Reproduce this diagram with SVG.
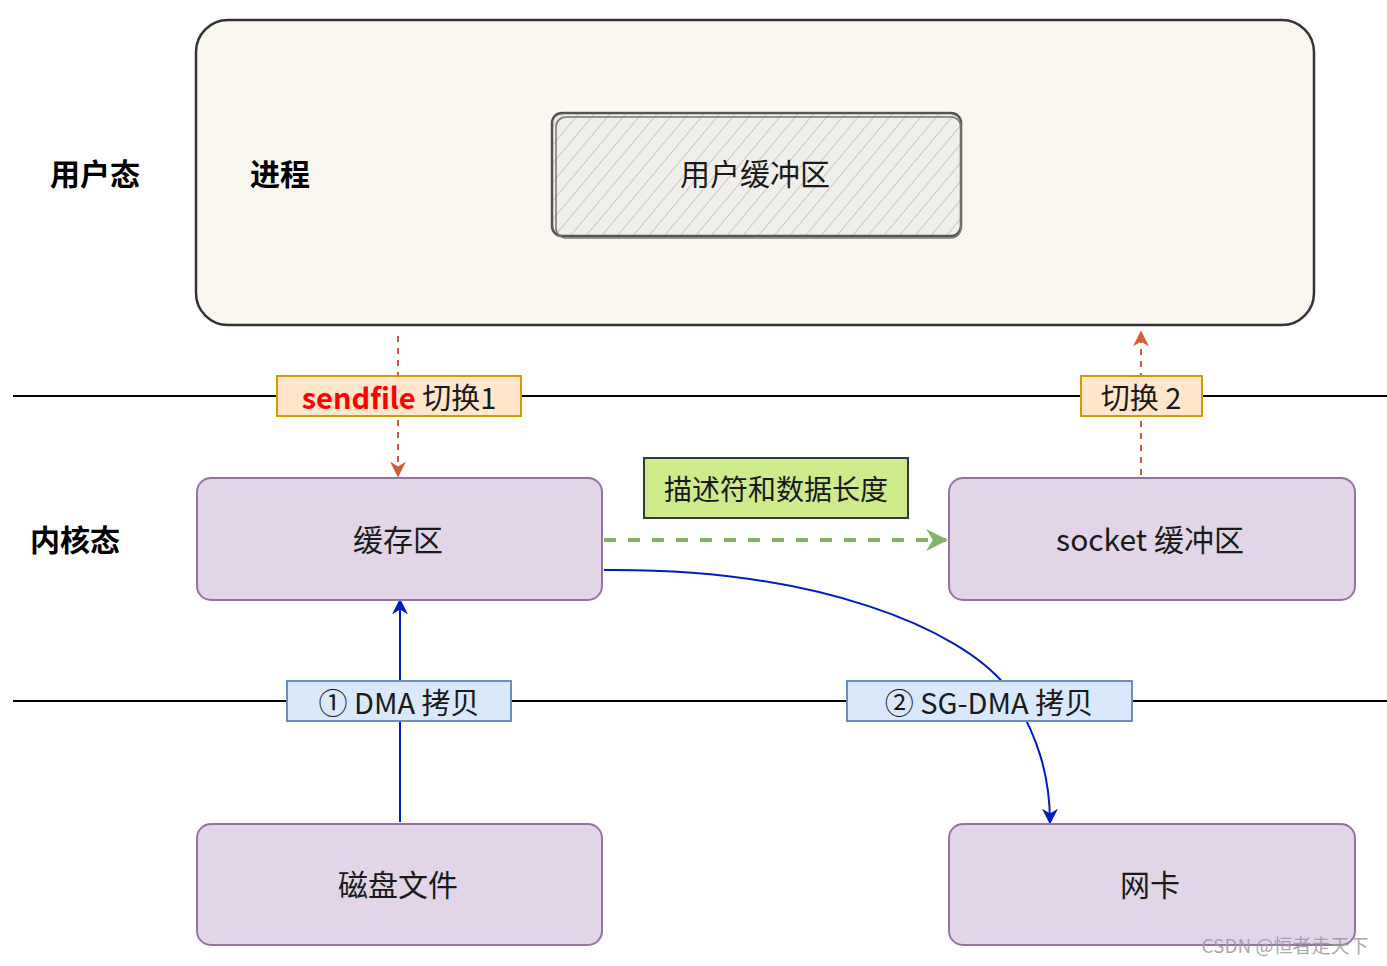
<svg xmlns="http://www.w3.org/2000/svg" width="1387" height="966" viewBox="0 0 1387 966">
<defs>
<style>
.t{font-family:"Noto Sans CJK SC","Liberation Sans",sans-serif;fill:#1a1a1a;text-anchor:middle;dominant-baseline:central}
.b{font-weight:bold;fill:#000}
.node{fill:#e1d5e7;stroke:#9673a6;stroke-width:2}
.sw{fill:#ffe6cc;stroke:#d79b00;stroke-width:2}
.dm{fill:#dae8fc;stroke:#6c8ebf;stroke-width:2}
.hl{stroke:#000;stroke-width:2}
</style>
<pattern id="hatch" patternUnits="userSpaceOnUse" width="12" height="12" patternTransform="rotate(40)">
<rect width="12" height="12" fill="#f1efe9"/>
<line x1="0" y1="0" x2="0" y2="12" stroke="#bbb" stroke-width="1.5"/>
</pattern>
<marker id="ar" viewBox="0 0 10 10" refX="9" refY="5" markerWidth="16" markerHeight="16" orient="auto" markerUnits="userSpaceOnUse"><path d="M0,0 L10,5 L0,10 L3,5 z" fill="#c73500"/></marker>
<marker id="ag" viewBox="0 0 10 10" refX="9" refY="5" markerWidth="22" markerHeight="22" orient="auto" markerUnits="userSpaceOnUse"><path d="M0,0 L10,5 L0,10 L3,5 z" fill="#82b366"/></marker>
<marker id="ab" viewBox="0 0 10 10" refX="9" refY="5" markerWidth="16" markerHeight="16" orient="auto" markerUnits="userSpaceOnUse"><path d="M0,0 L10,5 L0,10 L3,5 z" fill="#001dbc"/></marker>
</defs>
<rect width="1387" height="966" fill="#fff"/>
<line class="hl" x1="13" y1="396" x2="1387" y2="396"/>
<line class="hl" x1="13" y1="701" x2="1387" y2="701"/>

<g id="process">
<rect x="196" y="20" width="1118" height="305" rx="32" fill="#f9f7ef" stroke="#333" stroke-width="2.5"/>
<text class="t b" x="280" y="172" font-size="30">进程</text>
</g>
<g id="userbuf">
<rect x="552" y="113" width="409" height="123" rx="10" fill="url(#hatch)" stroke="#555" stroke-width="2.5"/>
<rect x="556" y="117" width="405" height="121" rx="10" fill="none" stroke="#777" stroke-width="1.5"/>
<text class="t" x="755" y="172" font-size="30" fill="#333">用户缓冲区</text>
</g>
<g id="labels">
<text class="t b" x="95" y="172" font-size="30">用户态</text>
<text class="t b" x="75" y="538" font-size="30">内核态</text>
</g>

<g id="connectors" fill="none">
<line x1="398" y1="336" x2="398" y2="476" stroke="#c73500" stroke-width="2" stroke-dasharray="6,6" opacity="0.8" marker-end="url(#ar)"/>
<line x1="1141" y1="475" x2="1141" y2="332" stroke="#c73500" stroke-width="2" stroke-dasharray="6,6" opacity="0.8" marker-end="url(#ar)"/>
<line x1="604" y1="540" x2="946" y2="540" stroke="#82b366" stroke-width="4" stroke-dasharray="12,12" marker-end="url(#ag)"/>
<line x1="400" y1="822" x2="400" y2="600" stroke="#001dbc" stroke-width="2" marker-end="url(#ab)"/>
<path d="M604,570 C820,568 960,630 1005,685 C1040,735 1050,780 1050,823" stroke="#001dbc" stroke-width="2" marker-end="url(#ab)"/>
</g>

<g id="cache">
<rect class="node" x="197" y="478" width="405" height="122" rx="14"/>
<text class="t" x="398" y="538" font-size="30">缓存区</text>
</g>
<g id="socket">
<rect class="node" x="949" y="478" width="406" height="122" rx="14"/>
<text class="t" x="1150" y="538" font-size="30">socket 缓冲区</text>
</g>
<g id="disk">
<rect class="node" x="197" y="824" width="405" height="121" rx="14"/>
<text class="t" x="398" y="883" font-size="30">磁盘文件</text>
</g>
<g id="nic">
<rect class="node" x="949" y="824" width="406" height="121" rx="14"/>
<text class="t" x="1150" y="883" font-size="30">网卡</text>
</g>
<g id="desc">
<rect x="644" y="458" width="264" height="60" fill="#cdeb8b" stroke="#36393d" stroke-width="2"/>
<text class="t" x="776" y="488" font-size="28" fill="#333">描述符和数据长度</text>
</g>
<g id="sw1">
<rect class="sw" x="277" y="376" width="244" height="40"/>
<text class="t" x="399" y="396" font-size="29"><tspan fill="#ff0000" font-weight="bold">sendfile</tspan> 切换1</text>
</g>
<g id="sw2">
<rect class="sw" x="1081" y="376" width="121" height="40"/>
<text class="t" x="1141" y="396" font-size="29">切换 2</text>
</g>
<g id="dma1">
<rect class="dm" x="287" y="681" width="224" height="40"/>
<text class="t" x="399" y="701" font-size="29">① DMA 拷贝</text>
</g>
<g id="dma2">
<rect class="dm" x="847" y="681" width="285" height="40"/>
<text class="t" x="989" y="701" font-size="29">② SG-DMA 拷贝</text>
</g>
<text x="1285" y="944" font-family="Noto Sans CJK SC,Liberation Sans,sans-serif" font-size="19" fill="#999" fill-opacity="0.85" text-anchor="middle" dominant-baseline="central">CSDN @恒者走天下</text>
</svg>
